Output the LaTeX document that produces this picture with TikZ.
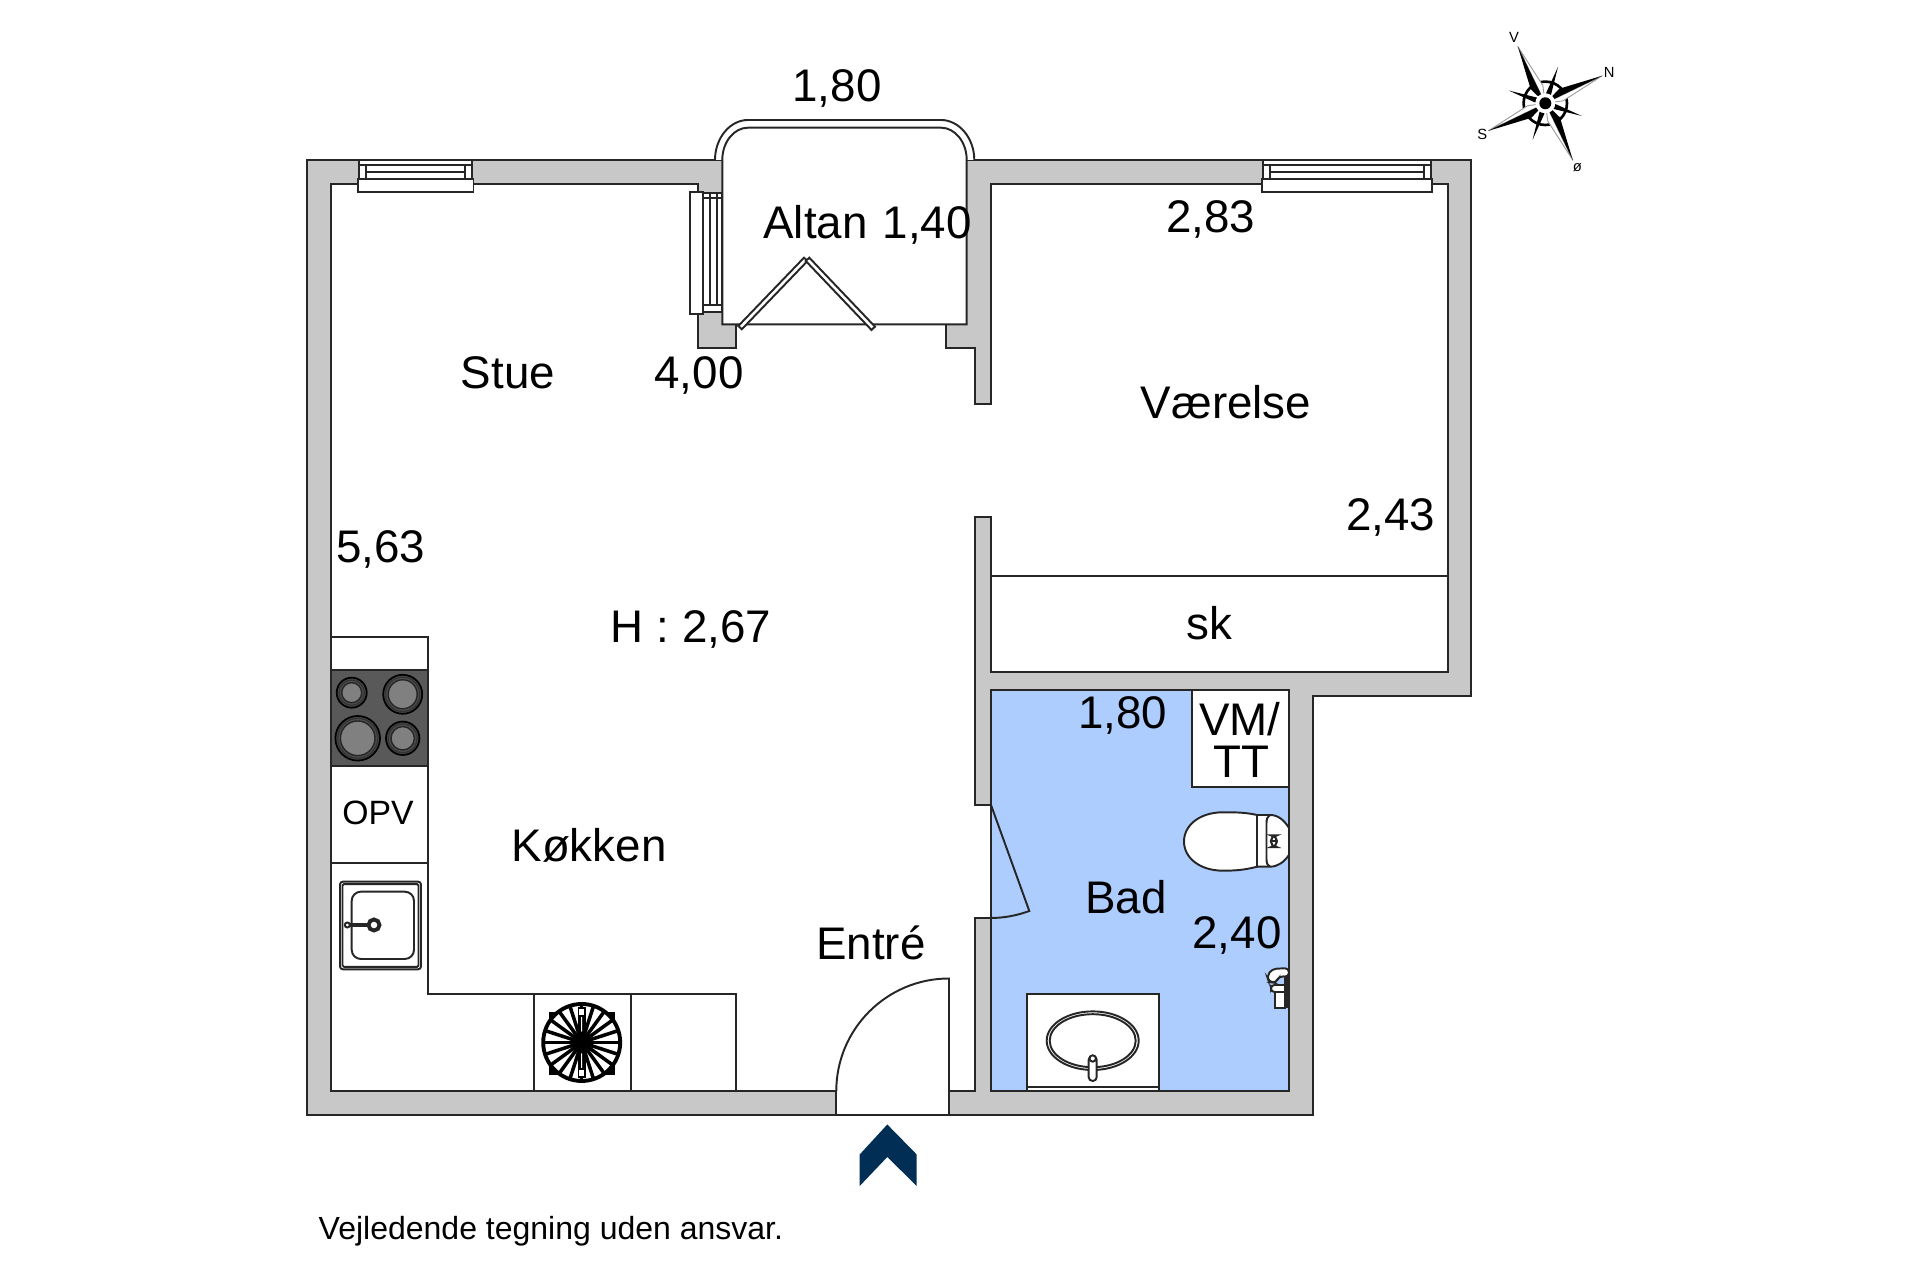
\documentclass[tikz,border=0pt]{standalone}
\usepackage{fontspec}
\setmainfont{Liberation Sans}
\definecolor{wallgrey}{HTML}{C8C8C8}
\definecolor{bathblue}{HTML}{AECDFF}
\definecolor{arrowblue}{HTML}{002E54}
\definecolor{hobgrey}{HTML}{595959}
\tikzset{
  plan/.style={draw=black!85,line width=0.55pt,line join=miter},
  wall/.style={plan,fill=wallgrey},
  room/.style={plan,fill=white},
  roomlabel/.style={inner sep=0pt,anchor=base,font=\fontsize{13}{14}\selectfont},
  smalllabel/.style={inner sep=0pt,anchor=base,font=\fontsize{9.6}{10}\selectfont},
  notelabel/.style={inner sep=0pt,anchor=base west,font=\fontsize{9.1}{10}\selectfont},
  compasslabel/.style={inner sep=0pt,font=\fontsize{4.2}{5}\selectfont}
}
\begin{document}
\begin{tikzpicture}[x=0.01cm,y=-0.01cm]
\useasboundingbox (0,0) rectangle (1920,1280);
% walls
\path[wall] (306.7,160) -- (1471,160) -- (1471,696) -- (1312.7,696) -- (1312.7,1115.3) -- (306.7,1115.3) -- cycle;
% stue, entre, vaerelse
\path[room] (331,184.3) -- (698.3,184.3) -- (698.3,192.7) -- (722.3,192.7) -- (722.3,312) -- (698.3,312) -- (698.3,348.3)
  -- (736,348.3) -- (736,324.3) -- (945.7,324.3) -- (945.7,348.3) -- (975,348.3) -- (975,404.3) -- (991,404.3) -- (991,184)
  -- (1447.7,184) -- (1447.7,671.7) -- (991,671.7) -- (991,516.7) -- (975,516.7) -- (975,805) -- (991,805) -- (991,918)
  -- (975,918) -- (975,1091) -- (949,1091) -- (949,1115.3) -- (836.3,1115.3) -- (836.3,1091) -- (331,1091) -- cycle;
\draw[plan] (991,576) -- (1447.7,576);
% altan
\path[room] (715,160) .. controls (715,138) and (730,120) .. (748,120) -- (941,120) .. controls (959,120) and (974.3,138) .. (974.3,160);
\path[room] (722.3,324.3) -- (722.3,160) .. controls (722.3,142) and (734,127.7) .. (748,127.7) -- (941,127.7)
  .. controls (955,127.7) and (966.7,142) .. (966.7,160) -- (966.7,324.3) -- cycle;
\path[room] (738.3,326) -- (804,257.7) -- (807.5,261) -- (741.8,329.3) -- cycle;
\path[room] (809.3,257.7) -- (875,326.7) -- (871.5,330) -- (805.8,261) -- cycle;
% windows
\foreach \xa/\xb in {359.3/472,1263.3/1430.7}{
  \path[room] (\xa-1.5,179.3) rectangle (\xb+1.5,192);
  \path[room] (\xa,160) rectangle (\xb,179.3);
  \draw[plan] (\xa,165) -- (\xb,165) (\xa+7,172.3) -- (\xb-7,172.3) (\xa+7,165) -- (\xa+7,179.3) (\xb-7,165) -- (\xb-7,179.3);
}
\path[room] (690,191.7) rectangle (703,314);
\path[room] (703,192.7) rectangle (722.3,312);
\draw[plan] (710,194) -- (710,305) (716.7,194) -- (716.7,305) (703,198) -- (722.3,198) (703,305) -- (722.3,305);
% kitchen
\draw[plan] (331,637.3) -- (427.7,637.3) -- (427.7,994.3) -- (736.3,994.3) -- (736.3,1091);
\draw[plan] (534.3,994.3) -- (534.3,1091) (630.7,994.3) -- (630.7,1091) (331,863) -- (427.7,863);
\path[plan,fill=hobgrey] (331,670) rectangle (427.7,766.3);
\foreach \cx/\cy/\cr in {351.7/692.7/15,402.7/694.3/19.5,357.7/738.3/22.3,402.7/738.3/16.7}{
  \draw[line width=0.5pt,fill=black!70] (\cx,\cy) circle[radius=\cr];
  \draw[line width=0.35pt,draw=black!80,fill=black!70] (\cx,\cy) circle[radius=\cr-2.3];
  \draw[line width=0.4pt,draw=black!85,fill=black!50] (\cx,\cy) circle[radius=\cr-5];
}
\draw[plan,rounded corners=0.8pt] (340,881.7) rectangle (421,969.3);
\draw[plan,rounded corners=0.4pt] (342.5,884.2) rectangle (418.5,966.8);
\draw[plan,rounded corners=2.6pt] (351.7,891.7) rectangle (414,959);
\draw[plan,line width=1pt] (350,925) -- (370,925);
\draw[plan,fill=white] (347.3,925) circle[radius=2.5];
\draw[plan,line width=1.1pt,fill=white] (374,925) circle[radius=5.5];
% extractor
\fill[black] (549.3,1011.7) rectangle (615,1075);
\draw[plan,draw=black,line width=1.1pt,fill=white] (581.7,1042.5) circle[radius=38.5];
\foreach \ang in {0,18,...,342}{
  \draw[line width=1pt] (581.7,1042.5) -- ++(\ang:38);
}
\fill[black] (577.5,1012) rectangle (586,1073);
\fill[white] (581.2,1016) rectangle (582.2,1032) (581.2,1053) rectangle (582.2,1069);
\draw[draw=black,line width=0.5pt,fill=white] (578.5,1008) rectangle (585,1016);
\draw[draw=black,line width=0.5pt,fill=white] (578.5,1069) rectangle (585,1077);
\fill[black] (581.7,1042.5) circle[radius=11];
% bath
\path[plan,fill=bathblue] (991,690.2) rectangle (1289,1091);
\draw[plan] (991,805) -- (1029.3,911) .. controls (1017,915.5) and (1004,918) .. (991,918);
\path[room] (1191.7,690.2) rectangle (1289,787);
\path[room] (1257,815) .. controls (1245,812.3) and (1235,812.3) .. (1223,812.3) .. controls (1200,812.3) and (1184,825) .. (1184,841.5)
  .. controls (1184,858) and (1200,870.7) .. (1223,870.7) .. controls (1235,870.7) and (1245,870) .. (1257,866.7) -- cycle;
\path[room] (1257,815) -- (1270,815) .. controls (1278,815) and (1284,820) .. (1289,828) -- (1289,855)
  .. controls (1284,862) and (1278,866.7) .. (1270,866.7) -- (1257,866.7) -- cycle;
\draw[plan] (1270,815) .. controls (1267.5,816) and (1266.5,819) .. (1266.5,823) -- (1266.5,859) .. controls (1266.5,863) and (1267.5,866) .. (1270,866.7);
\draw[plan,line width=0.6pt,rounded corners=1.5pt] (1271,835.5) rectangle (1276.8,847);
\draw[plan,line width=0.6pt] (1271,841.3) -- (1276.8,841.3);
\path[room] (1026.7,994) rectangle (1159,1091);
\draw[plan] (1026.7,1087) -- (1159,1087);
\draw[plan] (1092.7,1040.7) ellipse[x radius=46,y radius=29.3];
\draw[plan] (1092.7,1040.7) ellipse[x radius=43,y radius=26.5];
\path[room,rounded corners=1.1pt] (1088.7,1056) rectangle (1096.7,1081);
\draw[plan,fill=white] (1092.7,1058.5) circle[radius=3.2];
% shower
\path[room,rounded corners=1.2pt] (1267,976) -- (1272,969) -- (1289,968) -- (1289,977) -- (1279,976) -- (1276,983) -- (1269,982) -- cycle;
\path[room,rounded corners=1pt] (1271,985) rectangle (1289,992);
\path[room] (1275,992) rectangle (1285.5,1008);
\draw[plan,line width=1.2pt] (1286.5,976) -- (1286.5,1008);
% entry door and arrow
\draw[plan] (836.3,1091) .. controls (836.3,1029) and (886.8,978.5) .. (949,978.5) -- (949,1115.3);
\fill[arrowblue] (887.3,1124.5) -- (916.7,1154.5) -- (916.7,1186) -- (887.3,1157) -- (859.7,1186) -- (859.7,1154.5) -- cycle;
% compass
\begin{scope}[shift={(1545.3,103.3)},x=0.01cm,y=0.01cm]
\draw[line width=0.75pt] (0,0) circle[radius=21.7];
\foreach \ang in {25.8,115.8,205.8,295.8}{
  \begin{scope}[rotate=\ang]
    \fill[black,rotate=45] (10,-2.6) -- (38.6,0) -- (10,2.6) -- (6,0) -- cycle;
    \draw[line width=0.25pt,draw=black!40,fill=white] (0,0) -- (63.3,0) -- (17,-5.5) -- cycle;
    \fill[black] (0,0) -- (63.3,0) -- (19,7) -- cycle;
  \end{scope}
}
\fill[white] (0,0) circle[radius=10];
\fill[black] (0,0) circle[radius=6];
\end{scope}
\node[compasslabel] (north) at (1609.3,72.3) {N};
\node[compasslabel] (west) at (1514,37.3) {V};
\node[compasslabel] (south) at (1482.3,134) {S};
\node[compasslabel] (east) at (1577.3,167.7) {ø};
% labels
\node[roomlabel] (balconywidth) at (837,101.5) {1,80};
\node[roomlabel] (balcony) at (815.5,238.5) {Altan};
\node[roomlabel] (balconydepth) at (927.3,238.5) {1,40};
\node[roomlabel] (living) at (508,389) {Stue};
\node[roomlabel] (livingwidth) at (699,389) {4,00};
\node[roomlabel] (bedroom) at (1226,419) {Værelse};
\node[roomlabel] (bedroomwidth) at (1210.5,233) {2,83};
\node[roomlabel] (bedroomdepth) at (1390.5,530.5) {2,43};
\node[roomlabel] (livingdepth) at (380.5,563) {5,63};
\node[roomlabel] (height) at (691,643) {H : 2,67};
\node[roomlabel] (closet) at (1209.5,639.5) {sk};
\node[roomlabel] (bathwidth) at (1122.5,729) {1,80};
\node[roomlabel] (washer) at (1239.7,735.7) {VM/};
\node[roomlabel] (dryer) at (1241.7,777.3) {TT};
\node[roomlabel] (bath) at (1126,914) {Bad};
\node[roomlabel] (bathdepth) at (1237,948.3) {2,40};
\node[roomlabel] (kitchen) at (589,861.5) {Køkken};
\node[smalllabel] (fridge) at (378,824.5) {OPV};
\node[roomlabel] (entry) at (871,960) {Entré};
\node[notelabel] (note) at (318,1240) {Vejledende tegning uden ansvar.};
\end{tikzpicture}
\end{document}
